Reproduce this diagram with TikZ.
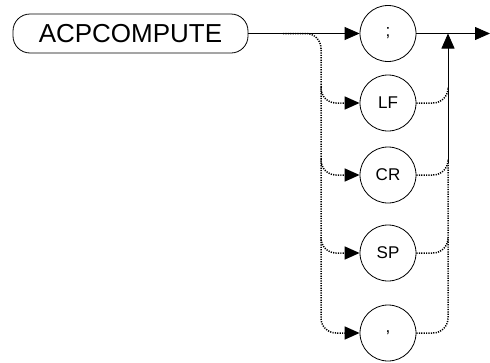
\documentclass[tikz,border=0pt]{standalone}
\usepackage{fontspec}
\setmainfont{Liberation Sans}
\usetikzlibrary{arrows.meta,calc}
\begin{document}
\begin{tikzpicture}[x=1pt,y=-1pt,
  kw/.style={draw,line width=0.8pt,rounded corners=17pt,minimum width=235pt,minimum height=39pt,inner sep=0pt,font=\fontsize{26}{28}\selectfont},
  term/.style={draw,circle,line width=0.8pt,minimum size=56pt,inner sep=0pt,font=\fontsize{17}{18}\selectfont},
  solidln/.style={line width=0.8pt},
  dotln/.style={line width=1.5pt,dash pattern=on 1.2pt off 1.2pt,rounded corners=15pt},
  tip/.style={-{Triangle[length=15pt,width=13pt]}}]
\useasboundingbox (0,0) rectangle (490,362);
\node[kw] (cmd) at (130.5,33.5) {ACPCOMPUTE};
\node[term] (semi) at (388,33.5) {;};
\node[term] (lf) at (388,103) {LF};
\node[term] (cr) at (388,175) {CR};
\node[term] (spc) at (388,253) {SP};
\node[term] (comma) at (388,333) {,};
\coordinate (split) at (283,33.5);
\coordinate (lx) at (321,33.5);
\coordinate (rx) at (448,33.5);
\coordinate (out) at (490,33.5);
% main line
\draw[solidln,tip] (cmd.east) -- (semi.west);
\draw[solidln,tip] (semi.east) -- (out);
% left dotted branches
\draw[dotln,tip] (split) -- (lx) -- (lx|-comma) -- (comma.west);
\foreach \n in {lf,cr,spc}{
  \draw[dotln,tip] ($(lx|-\n)+(0,-16)$) -- (lx|-\n) -- (\n.west);
}
% right dotted branches
\draw[dotln] (comma.east) -- (rx|-comma) -- ($(rx|-cr)+(0,-12)$);
\foreach \n in {lf,cr,spc}{
  \draw[dotln] (\n.east) -- (rx|-\n) -- ($(rx|-\n)+(0,-16)$);
}
\draw[solidln,tip] ($(rx|-cr)+(0,-12)$) -- (rx);
\end{tikzpicture}
\end{document}
